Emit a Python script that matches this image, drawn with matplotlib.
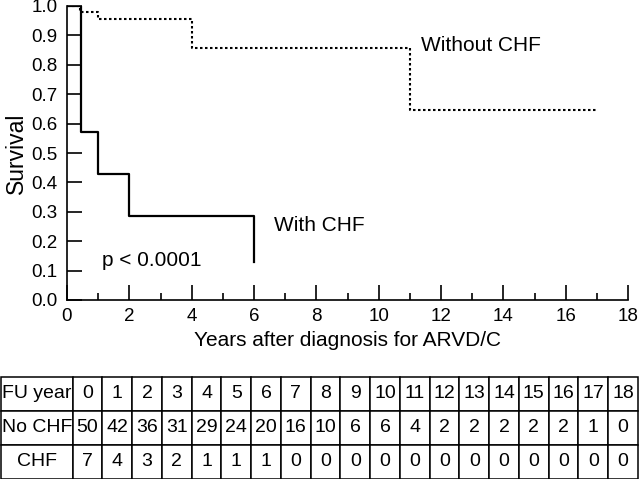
import matplotlib
matplotlib.use('Agg')
import matplotlib.pyplot as plt
from matplotlib.ticker import MultipleLocator

plt.rcParams['font.family'] = ['Liberation Sans', 'DejaVu Sans']

# Kaplan-Meier curves
years_no_chf = [0, 0.43, 1.0, 4.0, 11.0, 17.0]
surv_no_chf = [1.0, 0.98, 0.956, 0.856, 0.646, 0.646]

years_chf = [0, 0.45, 1.0, 2.0, 6.0, 6.0]
surv_chf = [1.0, 0.57, 0.43, 0.286, 0.286, 0.13]

# Number at risk table
fu_years = list(range(19))
at_risk_no_chf = [50, 42, 36, 31, 29, 24, 20, 16, 10, 6, 6, 4, 2, 2, 2, 2, 2, 1, 0]
at_risk_chf = [7, 4, 3, 2, 1, 1, 1, 0, 0, 0, 0, 0, 0, 0, 0, 0, 0, 0, 0]
row_names = ['FU year', 'No CHF', 'CHF']

fig = plt.figure(figsize=(6.4, 4.79), dpi=100)

# main survival axes
ax = fig.add_axes([67 / 640, 1 - 300 / 479, 561 / 640, 294 / 479])
ax.step(years_no_chf, surv_no_chf, where='post', color='black', lw=1.5,
        linestyle=(0, (1.2, 1.2)))
ax.step(years_chf, surv_chf, where='post', color='black', lw=1.6)

ax.set_xlim(0, 18)
ax.set_ylim(0, 1.0)
ax.xaxis.set_major_locator(MultipleLocator(2))
ax.xaxis.set_minor_locator(MultipleLocator(1))
ax.yaxis.set_major_locator(MultipleLocator(0.1))
ax.yaxis.set_major_formatter(matplotlib.ticker.FormatStrFormatter('%.1f'))
ax.tick_params(axis='both', which='major', direction='in', length=11, width=1.2,
               labelsize=13.5, pad=7)
ax.tick_params(axis='x', which='minor', direction='in', length=5, width=1.2)
ax.tick_params(axis='x', pad=6)
for s in ['top', 'right']:
    ax.spines[s].set_visible(False)
for s in ['left', 'bottom']:
    ax.spines[s].set_linewidth(1.2)

ax.set_ylabel('Survival', fontsize=16.5, labelpad=2)
ax.set_xlabel('Years after diagnosis for ARVD/C', fontsize=15, labelpad=4)

ax.text(11.35, 0.865, 'Without CHF', fontsize=15, va='center', ha='left')
ax.text(6.65, 0.255, 'With CHF', fontsize=15, va='center', ha='left')
ax.text(1.12, 0.136, 'p < 0.0001', fontsize=15, va='center', ha='left')

# number at risk table
tax = fig.add_axes([1 / 640, 0.5 / 479, 637 / 640, 101.5 / 479])
tax.axis('off')
cells = [[row_names[0]] + [str(v) for v in fu_years],
         [row_names[1]] + [str(v) for v in at_risk_no_chf],
         [row_names[2]] + [str(v) for v in at_risk_chf]]
first_w = 71.7 / 637
other_w = (1 - first_w) / 19
tbl = tax.table(cellText=cells, cellLoc='center', bbox=[0, 0, 1, 1],
                colWidths=[first_w] + [other_w] * 19)
tbl.auto_set_font_size(False)
tbl.set_fontsize(14)
for key, cell in tbl.get_celld().items():
    cell.set_linewidth(1.1)
    cell.PAD = 0.02

fig.savefig('out.png', dpi=100)
